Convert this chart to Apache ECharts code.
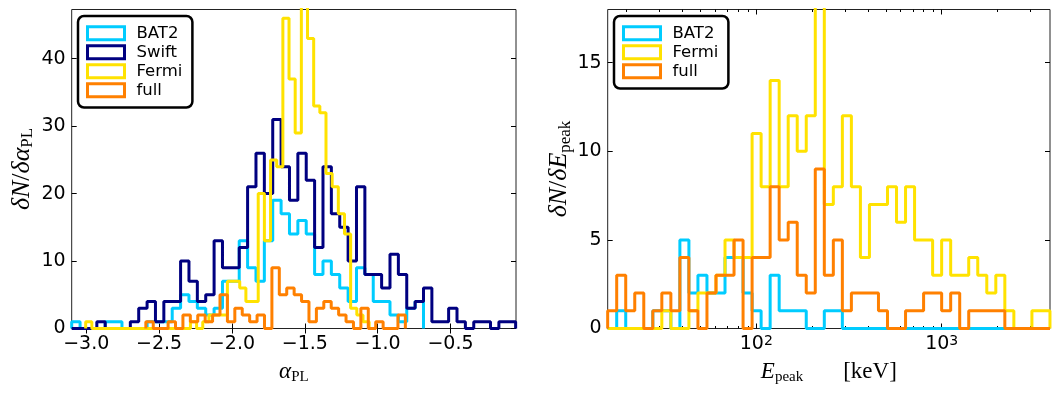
<!DOCTYPE html>
<html>
<head>
<meta charset="utf-8">
<script src="https://cdn.jsdelivr.net/npm/echarts@6/dist/echarts.min.js"></script>
<style>
  html, body { margin: 0; background: #fff; }
  #chart { width: 1052px; height: 396px; }
</style>
</head>
<body>
<div id="chart"></div>
<script>
// ---- left panel: alpha_PL histograms (counts per bin) ----
const alphaTicks = [-3.0, -2.5, -2.0, -1.5, -1.0, -0.5];
const alphaYTicks = [0, 10, 20, 30, 40];

const swiftAlphaStart = -3.1, swiftAlphaWidth = 0.0575;
const swiftAlpha = [0, 0, 0, 1, 0, 0, 0, 1, 3, 4, 1, 4, 4, 10, 7, 4, 5, 13, 9, 9, 12, 21, 26, 20, 31, 24, 19, 26, 22, 12,
  24, 17, 15, 10, 21, 8, 8, 6, 11, 8, 3, 4, 6, 1, 1, 3, 1, 0, 1, 1, 0, 1, 1];
// BAT2 uses the Swift bins
const bat2Alpha = [1, 0, 0, 0, 1, 1, 0, 0, 0, 1, 1, 1, 3, 5, 4, 3, 2, 3, 7, 7, 13, 9, 7, 13, 19, 17, 14, 16, 14, 8,
  10, 8, 6, 4, 9, 8, 4, 4, 2, 1, 3, 4];
const fermiAlphaStart = -3.004, fermiAlphaWidth = 0.0423;
const fermiAlpha = [1, 0, 0, 0, 0, 0, 0, 0, 0, 0, 0, 0, 0, 0, 0, 0, 0, 1, 0, 1, 2, 2, 2, 7, 7, 6, 4, 4, 20, 13,
  25, 24, 46, 37, 29, 48, 43, 33, 32, 23, 21, 17, 14, 3, 2, 1];
const fullAlphaStart = -2.591, fullAlphaWidth = 0.0509;
const fullAlpha = [1, 0, 0, 1, 0, 2, 1, 2, 1, 2, 5, 1, 3, 2, 1, 2, 0, 9, 5, 6, 5, 4, 1, 3, 4, 3, 2, 1, 0, 3,
  0, 1, 0, 0, 2];

// ---- right panel: E_peak histograms, common log10 bins ----
const epeakLogStart = 1.1985, epeakLogWidth = 0.04868;
const bat2Epeak = [0, 1, 0, 0, 0, 1, 1, 0, 5, 2, 3, 2, 2, 4, 4, 2, 1, 0, 3, 1, 1, 1, 0, 0, 1, 1, 0, 0, 0, 0,
  0, 0, 0, 0, 0, 0, 0, 0, 0, 0, 0, 0, 0, 0, 0, 0, 0, 0, 0];
const fermiEpeak = [0, 0, 0, 0, 0, 0, 1, 0, 0, 1, 2, 2, 3, 5, 4, 4, 11, 8, 14, 8, 12, 10, 12, 19, 7, 8, 12, 8, 4, 7,
  7, 8, 6, 8, 5, 5, 3, 5, 3, 3, 4, 3, 2, 3, 1, 0, 0, 1, 1];
const fullEpeak = [1, 3, 1, 2, 0, 1, 2, 1, 4, 1, 0, 2, 3, 3, 5, 0, 4, 4, 8, 5, 6, 3, 2, 9, 3, 5, 1, 2, 2, 2,
  1, 0, 0, 1, 1, 2, 2, 1, 2, 0, 1, 1, 1, 1, 0, 0, 0, 0, 0];
const epeakMajorTicks = [100, 1000];
const epeakMinorTicks = [20, 30, 40, 50, 60, 70, 80, 90, 200, 300, 400, 500, 600, 700, 800, 900, 2000, 3000];
const epeakYTicks = [0, 5, 10, 15];

const colors = { BAT2: "#00ccff", Swift: "#000080", Fermi: "#ffe200", full: "#ff8000" };

function linEdges(start, width, n) {
  const e = [];
  for (let i = 0; i <= n; i++) e.push(start + i * width);
  return e;
}
function logEdges(start, width, n) {
  const e = [];
  for (let i = 0; i <= n; i++) e.push(Math.pow(10, start + i * width));
  return e;
}
function stepPoints(edges, counts) {
  const pts = [[edges[0], 0]];
  counts.forEach((c, i) => pts.push([edges[i], c]));
  pts.push([edges[counts.length], 0]);
  return pts;
}

const tickFont = { fontFamily: "DejaVu Sans", fontSize: 19, color: "#000" };
const mathRich = {
  i: { fontFamily: "Liberation Serif", fontStyle: "italic", fontSize: 23, lineHeight: 26, color: "#000" },
  r: { fontFamily: "Liberation Serif", fontSize: 23, lineHeight: 26, color: "#000" },
  s: { fontFamily: "Liberation Serif", fontSize: 15, lineHeight: 13, verticalAlign: "bottom", color: "#000" },
  g: { width: 40 }
};
// y titles are drawn a little wider in the original
const mathRichY = {
  i: { fontFamily: "Liberation Serif", fontStyle: "italic", fontSize: 26, lineHeight: 28, color: "#000" },
  r: { fontFamily: "Liberation Serif", fontSize: 26, lineHeight: 28, color: "#000" },
  s: { fontFamily: "Liberation Serif", fontSize: 17, lineHeight: 14, verticalAlign: "bottom", color: "#000" }
};

function frameAxis(base, extra) {
  return Object.assign({
    axisLine: { show: false },
    splitLine: { show: false },
    axisTick: { inside: true, length: 5, lineStyle: { color: "#000", width: 1 } },
    axisLabel: { show: false }
  }, base, extra);
}

function histSeries(name, data, xi, yi) {
  return {
    type: "line", name, data, step: "end", symbol: "none",
    xAxisIndex: xi, yAxisIndex: yi,
    lineStyle: { color: colors[name], width: 3 },
    itemStyle: { color: colors[name] },
    z: 2
  };
}

function legendBox(names, left, extra) {
  return Object.assign({
    left, top: 16, orient: "vertical", selectedMode: false,
    padding: [8, 10, 8, 8], itemWidth: 37, itemHeight: 13, itemGap: 0.5,
    backgroundColor: "#fff", borderColor: "#000", borderWidth: 2.5, borderRadius: 6,
    textStyle: { fontFamily: "DejaVu Sans", fontSize: 16.5, lineHeight: 18.5, color: "#000", padding: [0, 0, 0, 7] },
    data: names.map(n => ({
      name: n, icon: "rect",
      itemStyle: { color: "rgba(0,0,0,0)", borderColor: colors[n], borderWidth: 3 }
    }))
  }, extra);
}

const swiftEdges = linEdges(swiftAlphaStart, swiftAlphaWidth, swiftAlpha.length);
const fermiEdges = linEdges(fermiAlphaStart, fermiAlphaWidth, fermiAlpha.length);
const fullEdges = linEdges(fullAlphaStart, fullAlphaWidth, fullAlpha.length);
const epeakEdges = logEdges(epeakLogStart, epeakLogWidth, fermiEpeak.length);

const alphaRange = { min: -3.1, max: -0.05 };
const epeakRange = { min: 15.8, max: 3837, logBase: 10 };

const chart = echarts.init(document.getElementById("chart"));
chart.setOption({
  animation: false,
  grid: [
    { left: 71.7, top: 9.5, width: 444.3, height: 319, show: true, borderColor: "#222", borderWidth: 1, backgroundColor: "transparent" },
    { left: 607.7, top: 9.5, width: 442.3, height: 319, show: true, borderColor: "#222", borderWidth: 1, backgroundColor: "transparent" }
  ],
  legend: [
    legendBox(["BAT2", "Swift", "Fermi", "full"], 78),
    legendBox(["BAT2", "Fermi", "full"], 614)
  ],
  xAxis: [
    frameAxis({ type: "value", gridIndex: 0, position: "bottom" }, Object.assign({}, alphaRange, {
      axisTick: { inside: true, length: 5, customValues: alphaTicks, lineStyle: { color: "#000" } },
      axisLabel: Object.assign({ show: true, margin: 6, customValues: alphaTicks,
        formatter: v => v.toFixed(1).replace("-", "\u2212") }, tickFont),
      name: "{i|\u03b1}{s|PL}", nameLocation: "middle", nameGap: 30,
      nameTextStyle: { rich: mathRich }
    })),
    frameAxis({ type: "value", gridIndex: 0, position: "top" }, Object.assign({}, alphaRange, {
      axisTick: { inside: true, length: 5, customValues: alphaTicks, lineStyle: { color: "#000" } }
    })),
    frameAxis({ type: "log", gridIndex: 1, position: "bottom" }, Object.assign({}, epeakRange, {
      axisTick: { inside: true, length: 5, customValues: epeakMajorTicks, lineStyle: { color: "#000" } },
      axisLabel: Object.assign({ show: true, margin: 6, customValues: epeakMajorTicks,
        formatter: v => "10{sup|" + Math.round(Math.log10(v)) + "}",
        rich: { sup: { fontFamily: "DejaVu Sans", fontSize: 14, lineHeight: 12, verticalAlign: "top", color: "#000" } }
      }, tickFont),
      name: "{i|E}{s|peak}{g|}{r|[keV]}", nameLocation: "middle", nameGap: 30,
      nameTextStyle: { rich: mathRich }
    })),
    frameAxis({ type: "log", gridIndex: 1, position: "bottom" }, Object.assign({}, epeakRange, {
      axisTick: { inside: true, length: 2.5, customValues: epeakMinorTicks, lineStyle: { color: "#000" } }
    })),
    frameAxis({ type: "log", gridIndex: 1, position: "top" }, Object.assign({}, epeakRange, {
      axisTick: { inside: true, length: 5, customValues: epeakMajorTicks, lineStyle: { color: "#000" } }
    })),
    frameAxis({ type: "log", gridIndex: 1, position: "top" }, Object.assign({}, epeakRange, {
      axisTick: { inside: true, length: 2.5, customValues: epeakMinorTicks, lineStyle: { color: "#000" } }
    }))
  ],
  yAxis: [
    frameAxis({ type: "value", gridIndex: 0, position: "left" }, {
      min: 0, max: 47.3,
      axisTick: { inside: true, length: 5, customValues: alphaYTicks, lineStyle: { color: "#000" } },
      axisLabel: Object.assign({ show: true, margin: 6, customValues: alphaYTicks }, tickFont),
      name: "{i|\u03b4N}{r|/}{i|\u03b4\u03b1}{s|PL}", nameLocation: "middle", nameRotate: 90, nameGap: 36,
      nameTextStyle: { rich: mathRichY }
    }),
    frameAxis({ type: "value", gridIndex: 0, position: "right" }, {
      min: 0, max: 47.3,
      axisTick: { inside: true, length: 5, customValues: alphaYTicks, lineStyle: { color: "#000" } }
    }),
    frameAxis({ type: "value", gridIndex: 1, position: "left" }, {
      min: 0, max: 18,
      axisTick: { inside: true, length: 5, customValues: epeakYTicks, lineStyle: { color: "#000" } },
      axisLabel: Object.assign({ show: true, margin: 6, customValues: epeakYTicks }, tickFont),
      name: "{i|\u03b4N}{r|/}{i|\u03b4E}{s|peak}", nameLocation: "middle", nameRotate: 90, nameGap: 33,
      nameTextStyle: { rich: mathRichY }
    }),
    frameAxis({ type: "value", gridIndex: 1, position: "right" }, {
      min: 0, max: 18,
      axisTick: { inside: true, length: 5, customValues: epeakYTicks, lineStyle: { color: "#000" } }
    })
  ],
  series: [
    histSeries("BAT2", stepPoints(swiftEdges, bat2Alpha), 0, 0),
    histSeries("Swift", stepPoints(swiftEdges, swiftAlpha), 0, 0),
    histSeries("Fermi", stepPoints(fermiEdges, fermiAlpha), 0, 0),
    histSeries("full", stepPoints(fullEdges, fullAlpha), 0, 0),
    histSeries("BAT2", stepPoints(epeakEdges, bat2Epeak), 2, 2),
    histSeries("Fermi", stepPoints(epeakEdges, fermiEpeak), 2, 2),
    histSeries("full", stepPoints(epeakEdges, fullEpeak), 2, 2)
  ]
});
</script>
</body>
</html>
